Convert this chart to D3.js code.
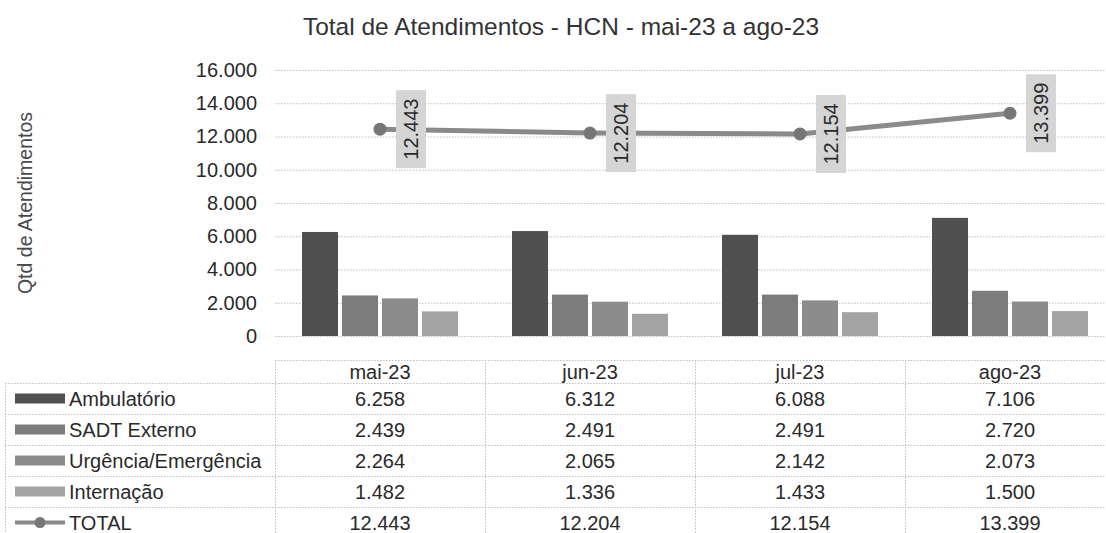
<!DOCTYPE html>
<html>
<head>
<meta charset="utf-8">
<script src="https://cdn.jsdelivr.net/npm/d3@7"></script>
<style>
  html, body { margin: 0; padding: 0; background: #ffffff; }
  svg { display: block; }
  text { font-family: "Liberation Sans", Arial, sans-serif; }
</style>
</head>
<body>
<svg id="chart" width="1106" height="533"></svg>
<script>
// ---------- data ----------
const categories = ["mai-23", "jun-23", "jul-23", "ago-23"];
const seriesNames = ["Ambulatório", "SADT Externo", "Urgência/Emergência", "Internação"];
const ambulatorio = [6258, 6312, 6088, 7106];
const sadtExterno = [2439, 2491, 2491, 2720];
const urgencia = [2264, 2065, 2142, 2073];
const internacao = [1482, 1336, 1433, 1500];
const totalName = "TOTAL";
const total = [12443, 12204, 12154, 13399];
const yTicks = [0, 2000, 4000, 6000, 8000, 10000, 12000, 14000, 16000];
const titleText = "Total de Atendimentos - HCN - mai-23 a ago-23";
const yAxisTitle = "Qtd de Atendimentos";

// ---------- styles ----------
const seriesColors = ["#505050", "#7c7c7c", "#8c8c8c", "#a3a3a3"];
const lineColor = "#8a8a8a";
const markerColor = "#767676";
const gridColor = "#bdbdbd";
const textColor = "#2a2a2a";

const seriesValues = [ambulatorio, sadtExterno, urgencia, internacao];

const locale = d3.formatLocale({ decimal: ",", thousands: ".", grouping: [3], currency: ["R$", ""] });
const fmt = locale.format(",d");

const svg = d3.select("#chart");
const W = 1106, H = 533;

// scales
const x0 = d3.scaleBand().domain(categories).range([275, 1115]).padding(0);
const x1 = d3.scaleBand().domain(seriesNames).range([27, 183]).paddingInner(0.1).paddingOuter(0);
const y = d3.scaleLinear().domain([0, 16000]).range([336, 70]);

// title
svg.append("text")
  .attr("x", 561).attr("y", 35)
  .attr("text-anchor", "middle")
  .attr("font-size", "24.5px")
  .attr("fill", "#333")
  .text(titleText);

// y-axis title
svg.append("text")
  .attr("transform", `translate(32, ${y(8000)}) rotate(-90)`)
  .attr("text-anchor", "middle")
  .attr("font-size", "19.5px")
  .attr("fill", "#4a4a4a")
  .text(yAxisTitle);

// gridlines
const grid = svg.append("g");
grid.selectAll("line").data(yTicks).join("line")
  .attr("x1", 275).attr("x2", W)
  .attr("y1", d => y(d) + 0.5).attr("y2", d => y(d) + 0.5)
  .attr("stroke", gridColor).attr("stroke-width", 1)
  .attr("stroke-dasharray", "1.5,1.5");

// y axis labels using d3 axis
const yAxis = d3.axisLeft(y).tickValues(yTicks).tickFormat(fmt).tickSize(0).tickPadding(0);
const gy = svg.append("g").attr("transform", "translate(257,0)").call(yAxis);
gy.select(".domain").remove();
gy.selectAll("text")
  .attr("font-size", "20px")
  .attr("fill", textColor)
  .style("font-family", "'Liberation Sans', Arial, sans-serif");

// bars
const groups = svg.append("g").selectAll("g").data(categories).join("g")
  .attr("transform", d => `translate(${x0(d)},0)`);
groups.selectAll("rect")
  .data((c, ci) => seriesNames.map((s, si) => ({ s, si, v: seriesValues[si][ci] })))
  .join("rect")
  .attr("x", d => x1(d.s))
  .attr("width", x1.bandwidth())
  .attr("y", d => y(d.v))
  .attr("height", d => y(0) - y(d.v))
  .attr("fill", d => seriesColors[d.si]);

// total line
const cx = c => x0(c) + x0.bandwidth() / 2;
const line = d3.line().x((d, i) => cx(categories[i])).y(d => y(d));
svg.append("path")
  .datum(total)
  .attr("d", line)
  .attr("fill", "none")
  .attr("stroke", lineColor)
  .attr("stroke-width", 5)
  .attr("stroke-linejoin", "round");
svg.append("g").selectAll("circle").data(total).join("circle")
  .attr("cx", (d, i) => cx(categories[i]))
  .attr("cy", d => y(d))
  .attr("r", 6.5)
  .attr("fill", markerColor);

// data labels (rotated, gray boxes)
const lbl = svg.append("g").selectAll("g").data(total).join("g")
  .attr("transform", (d, i) => `translate(${cx(categories[i]) + 31},${y(d)})`);
lbl.append("rect")
  .attr("x", -15).attr("y", -39)
  .attr("width", 30).attr("height", 78)
  .attr("fill", "#d5d5d5");
lbl.append("text")
  .attr("transform", "rotate(-90)")
  .attr("text-anchor", "middle")
  .attr("dy", "0.36em")
  .attr("font-size", "20px")
  .attr("fill", textColor)
  .text(d => fmt(d));

// ---------- data table ----------
const headerTop = 360, headerBottom = 383, rowH = 31;
const legendLeft = 5;
const rows = seriesNames.map((s, i) => ({ name: s, values: seriesValues[i], type: "bar", color: seriesColors[i] }))
  .concat([{ name: totalName, values: total, type: "line" }]);
const tableBottom = headerBottom + rowH * rows.length;

const tbl = svg.append("g");
// horizontal lines
tbl.append("line")
  .attr("x1", x0.range()[0]).attr("x2", W)
  .attr("y1", headerTop + 0.5).attr("y2", headerTop + 0.5);
d3.range(rows.length + 1).forEach(i => {
  tbl.append("line")
    .attr("x1", legendLeft).attr("x2", W)
    .attr("y1", headerBottom + i * rowH + 0.5).attr("y2", headerBottom + i * rowH + 0.5);
});
// vertical lines
tbl.append("line")
  .attr("x1", legendLeft + 0.5).attr("x2", legendLeft + 0.5)
  .attr("y1", headerBottom).attr("y2", tableBottom);
categories.forEach(c => {
  tbl.append("line")
    .attr("x1", x0(c) + 0.5).attr("x2", x0(c) + 0.5)
    .attr("y1", headerTop).attr("y2", tableBottom);
});
tbl.selectAll("line")
  .attr("stroke", gridColor).attr("stroke-width", 1)
  .attr("stroke-dasharray", "1.5,1.5");

// header labels
tbl.selectAll("text.hdr").data(categories).join("text")
  .attr("class", "hdr")
  .attr("x", d => cx(d))
  .attr("y", (headerTop + headerBottom) / 2)
  .attr("dy", "0.36em")
  .attr("text-anchor", "middle")
  .attr("font-size", "20px")
  .attr("fill", textColor)
  .text(d => d);

// rows
rows.forEach((r, ri) => {
  const yc = headerBottom + ri * rowH + rowH / 2;
  if (r.type === "bar") {
    tbl.append("rect")
      .attr("x", 15).attr("y", yc - 5)
      .attr("width", 50).attr("height", 10)
      .attr("fill", r.color);
  } else {
    tbl.append("line")
      .attr("x1", 15).attr("x2", 65)
      .attr("y1", yc).attr("y2", yc)
      .attr("stroke", lineColor).attr("stroke-width", 4);
    tbl.append("circle")
      .attr("cx", 40).attr("cy", yc).attr("r", 5.5)
      .attr("fill", markerColor);
  }
  tbl.append("text")
    .attr("x", 69).attr("y", yc)
    .attr("dy", "0.36em")
    .attr("font-size", "20px")
    .attr("fill", textColor)
    .text(r.name);
  r.values.forEach((v, ci) => {
    tbl.append("text")
      .attr("x", cx(categories[ci]))
      .attr("y", yc)
      .attr("dy", "0.36em")
      .attr("text-anchor", "middle")
      .attr("font-size", "20px")
      .attr("fill", textColor)
      .text(fmt(v));
  });
});
</script>
</body>
</html>
